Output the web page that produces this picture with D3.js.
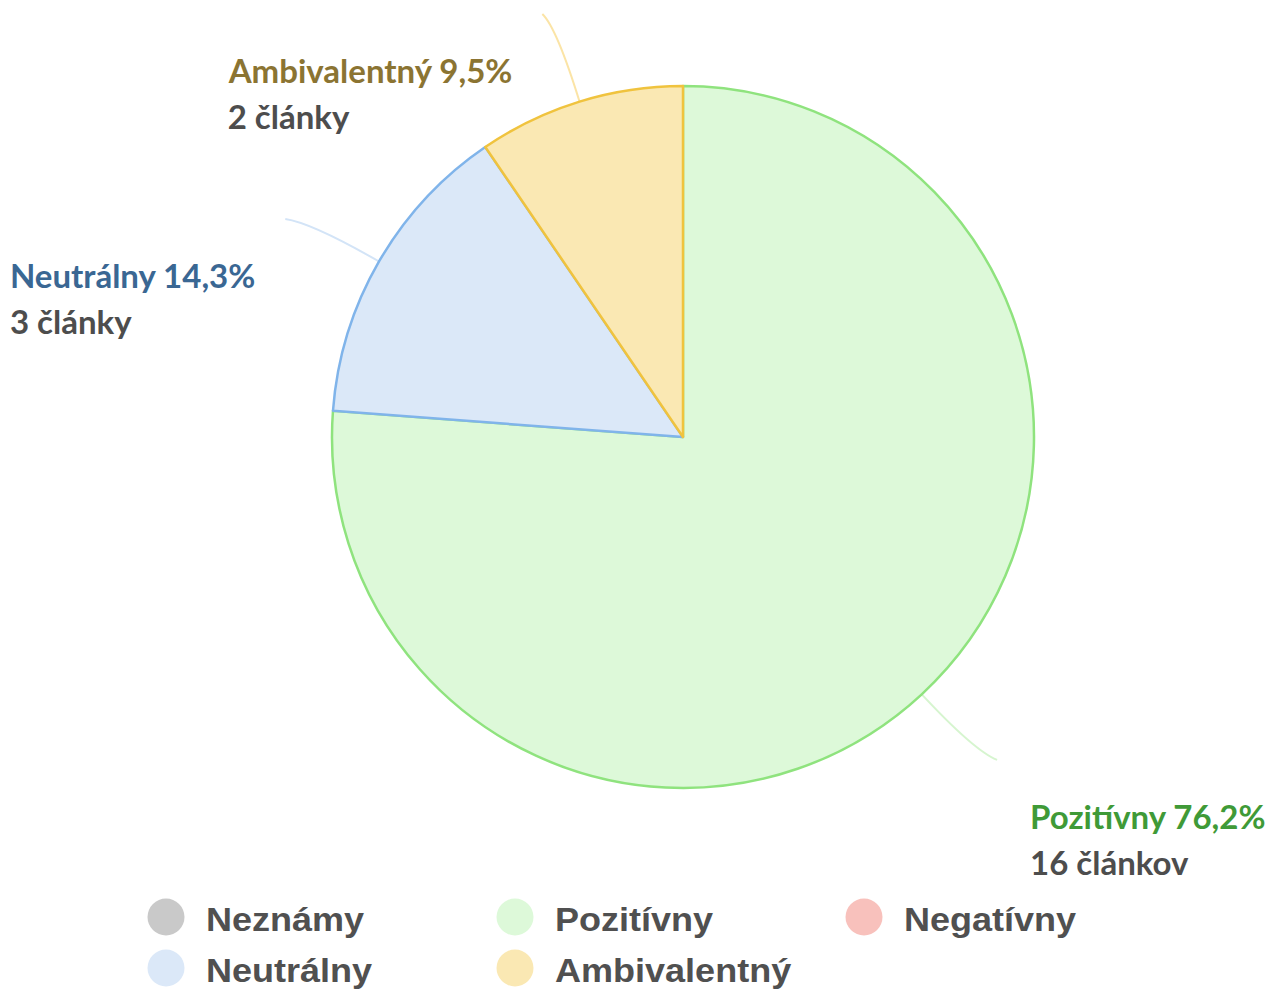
<!DOCTYPE html>
<html>
<head>
<meta charset="utf-8">
<script src="https://cdn.jsdelivr.net/npm/d3@7"></script>
<style>
  body { margin: 0; background: #fff; }
  svg { display: block; }
</style>
</head>
<body>
<svg id="chart" width="1270" height="991"></svg>
<script>
// Data
const slices = ['Pozitívny', 'Neutrálny', 'Ambivalentný'];
const counts = [16, 3, 2];
const countLabels = ['16 článkov', '3 články', '2 články'];

const legendNames = ['Neznámy', 'Pozitívny', 'Negatívny', 'Neutrálny', 'Ambivalentný'];

// Colours per category
const fillColor = {
    'Neznámy': '#c9c9c9',
    'Pozitívny': '#ddf9d9',
    'Negatívny': '#f8c1bc',
    'Neutrálny': '#dbe8f8',
    'Ambivalentný': '#fae8b3'
};
const strokeColor = {
    'Pozitívny': '#8fe37e',
    'Neutrálny': '#80b4ea',
    'Ambivalentný': '#f0c33e'
};
const connectorColor = {
    'Pozitívny': '#d6f5cf',
    'Neutrálny': '#d3e4f7',
    'Ambivalentný': '#fbe4a6'
};
const labelColor = {
    'Pozitívny': '#3f9a37',
    'Neutrálny': '#3a6793',
    'Ambivalentný': '#8b7432'
};

const svg = d3.select('#chart');
const cx = 683, cy = 437, radius = 351;

const data = slices.map((name, i) => ({ name, value: counts[i], countLabel: countLabels[i] }));
const total = d3.sum(counts);

const pie = d3.pie().sort(null).value(d => d.value);
const arc = d3.arc().innerRadius(0).outerRadius(radius);
const arcs = pie(data);

const g = svg.append('g').attr('transform', `translate(${cx},${cy})`);

// Connectors first so the slices sit on top
const polar = (r, a) => [r * Math.sin(a), -r * Math.cos(a)];
const pct = d3.format('.1f');

arcs.forEach(d => {
    const mid = (d.startAngle + d.endAngle) / 2;
    const p0 = polar(radius - 2, mid);
    const p1 = polar(428, mid);
    const m = polar(450, mid);
    // nudge the end sideways towards its label and back towards the middle
    const p2 = [m[0] + Math.sign(m[0]) * 8, m[1] - Math.sign(m[1]) * 7];
    const path = d3.path();
    path.moveTo(p0[0], p0[1]);
    path.quadraticCurveTo(p1[0], p1[1], p2[0], p2[1]);
    g.append('path')
        .attr('d', path.toString())
        .attr('fill', 'none')
        .attr('stroke', connectorColor[d.data.name])
        .attr('stroke-width', 2);
    d.labelEnd = p2;
});

g.selectAll('.slice')
    .data(arcs)
    .enter()
    .append('path')
    .attr('class', 'slice')
    .attr('d', arc)
    .attr('fill', d => fillColor[d.data.name])
    .attr('stroke', d => strokeColor[d.data.name])
    .attr('stroke-width', 2.5)
    .attr('stroke-linejoin', 'round');

// Data labels
arcs.forEach(d => {
    const [ex, ey] = d.labelEnd;
    const right = ex > 0;
    const tx = right ? ex + 33 : ex - 30;
    const label = g.append('text')
        .attr('x', tx)
        .attr('y', ey + 69)
        .attr('text-anchor', right ? 'start' : 'end')
        .style('font-family', 'Lato, sans-serif')
        .style('font-weight', 700)
        .style('font-size', '33px')
        .attr('fill', labelColor[d.data.name])
        .text(`${d.data.name} ${pct(d.data.value / total * 100).replace('.', ',')}%`);
    const first = label.node().getBBox();
    g.append('text')
        .attr('x', first.x)
        .attr('y', ey + 115)
        .style('font-family', 'Lato, sans-serif')
        .style('font-weight', 700)
        .style('font-size', '33px')
        .attr('fill', '#4d4d4d')
        .text(d.data.countLabel);
});

// Legend
const legend = svg.append('g').attr('transform', 'translate(166,917)');
const item = legend.selectAll('.item')
    .data(legendNames)
    .enter()
    .append('g')
    .attr('class', 'item')
    .attr('transform', (d, i) => `translate(${(i % 3) * 349},${Math.floor(i / 3) * 51})`);

item.append('circle')
    .attr('r', 18.5)
    .attr('fill', d => fillColor[d]);

item.append('text')
    .attr('transform', 'translate(40,14) scale(1.06,1)')
    .style('font-family', '"Liberation Sans", Arial, sans-serif')
    .style('font-weight', 700)
    .style('font-size', '34px')
    .attr('fill', '#505050')
    .text(d => d);
</script>
</body>
</html>
